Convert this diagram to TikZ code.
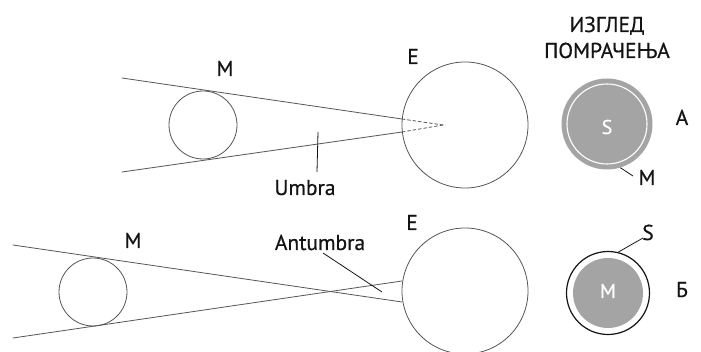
\documentclass[tikz,border=0pt]{standalone}
\usepackage{fontspec}
\setmainfont{PT Sans}[FakeBold=0.6]
\usepackage{xcolor}
\usetikzlibrary{calc}
\definecolor{ink}{HTML}{141414}
\definecolor{rim}{HTML}{555555}
\definecolor{disc}{HTML}{A4A4A4}
\tikzset{
  body/.style={circle, draw=rim, line width=0.8pt, inner sep=0pt},
  ray/.style={draw=rim, line width=0.8pt, line cap=round},
  inray/.style={ray, dash pattern=on 3pt off 2.5pt},
  ptr/.style={draw=ink, line width=0.8pt},
  lab/.style={text=ink, font=\fontsize{21.5}{24}\selectfont, anchor=base, inner sep=0pt},
  labw/.style={lab, text=white, anchor=center, font=\fontsize{20}{24}\selectfont}
}

\begin{document}
\begin{tikzpicture}[x=1pt,y=-1pt]
  \useasboundingbox (0,0) rectangle (701,352);
  % top: umbra
  \node[body, minimum size=68pt] (moonA) at (203,125) {};
  \node[body, minimum size=126pt] (earthA) at (465,125) {};
  \coordinate (rayAt) at (122,78);
  \coordinate (rayAb) at (122,172);
  \coordinate (hitAt) at (402,119);
  \coordinate (hitAb) at (402,132);
  \coordinate (tipA) at (443,125);
  \draw[ray] (rayAt) -- (hitAt);
  \draw[ray] (rayAb) -- (hitAb);
  \draw[inray] (hitAt) -- (tipA);
  \draw[inray] (hitAb) -- (tipA);
  \node[lab] (mLabA) at (225,76) {M};
  \node[lab] (eLabA) at (413,64) {E};
  \node[lab] (umbra) at (305,195) {Umbra};
  \coordinate (umbraIn) at (318,132);
  \coordinate (umbraOut) at (317,172);
  \draw[ptr] (umbraOut) -- (umbraIn);

  % bottom: antumbra
  \node[body, minimum size=68pt] (moonB) at (93,292) {};
  \node[body, minimum size=126pt] (earthB) at (465,291) {};
  \coordinate (rayBt) at (13,245);
  \coordinate (rayBb) at (13,338);
  \coordinate (hitBt) at (402,302);
  \coordinate (hitBb) at (402,281);
  \draw[ray] (rayBt) -- (hitBt);
  \draw[ray] (rayBb) -- (hitBb);
  \node[lab] (mLabB) at (133,248) {M};
  \node[lab] (eLabB) at (412,230) {E};
  \node[lab] (antumbra) at (320,250) {Antumbra};
  \coordinate (antOut) at (323,253);
  \coordinate (antIn) at (382,292);
  \draw[ptr] (antOut) -- (antIn);

  % right: how the eclipse looks
  \node[lab, anchor=base] (viewA) at (607,32) {ИЗГЛЕД};
  \node[lab, anchor=base] (viewB) at (607,58) {ПОМРАЧЕЊА};

  \node[circle, fill=disc, inner sep=0pt, minimum size=91pt] (sunA) at (607,124) {};
  \node[circle, draw=white, line width=1.1pt, inner sep=0pt, minimum size=80pt] (moonEclA) at (607,124) {};
  \node[labw] (sA) at (607,127) {S};
  \node[lab] (mA) at (647,185) {M};
  \coordinate (mAend) at (633,176);
  \draw[ptr] (sunA.-73) -- (mAend);
  \node[lab] (caseA) at (682,125) {А};

  \node[circle, draw=ink, fill=white, line width=1.2pt, inner sep=0pt, minimum size=83pt] (sunB) at (608,293) {};
  \node[circle, fill=disc, inner sep=0pt, minimum size=70pt] (moonEclB) at (608,293) {};
  \node[labw] (mB) at (608,291) {M};
  \node[lab] (sB) at (648,240) {S};
  \coordinate (sBend) at (643,238);
  \draw[ptr] (sunB.76) -- (sBend);
  \node[lab] (caseB) at (682,297) {Б};
\end{tikzpicture}
\end{document}
